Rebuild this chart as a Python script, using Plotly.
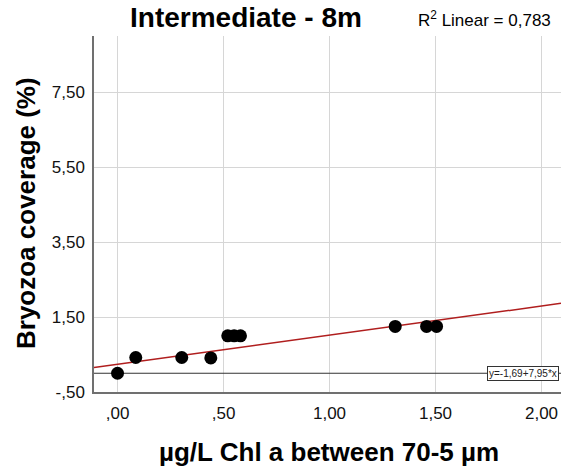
import numpy as np
import plotly.graph_objects as go

# Data
chl = [0.00, 0.086, 0.303, 0.44, 0.52, 0.55, 0.58, 1.31, 1.458, 1.505]
bryozoa = [0.00, 0.42, 0.42, 0.41, 1.00, 1.00, 1.00, 1.25, 1.25, 1.25]

# Fit line as drawn in the chart
fit_intercept = 0.24
fit_slope = 0.777

x_ticks = [0.0, 0.5, 1.0, 1.5, 2.0]
x_ticklabels = [",00", ",50", "1,00", "1,50", "2,00"]
y_ticks = [-0.5, 1.5, 3.5, 5.5, 7.5]
y_ticklabels = ["-,50", "1,50", "3,50", "5,50", "7,50"]

title = "Intermediate - 8m"
r2_text = "R<sup>2</sup> Linear = 0,783"
eq_text = "y=-1,69+7,95*x"
x_title = "µg/L Chl a between 70-5 µm"
y_title = "Bryozoa coverage (%)"

x_range = [-0.111, 2.092]
y_range = [-0.5, 9.0]

fx = np.array(x_range)
fy = fit_intercept + fit_slope * fx

FONT = "Liberation Sans, Arial, sans-serif"

fig = go.Figure()
fig.add_trace(go.Scatter(x=[x_range[0], x_range[1]], y=[0, 0], mode="lines",
                         line=dict(color="#333333", width=1.2), hoverinfo="skip"))
fig.add_trace(go.Scatter(x=fx, y=fy, mode="lines",
                         line=dict(color="#b01e1e", width=1.5), hoverinfo="skip"))
fig.add_trace(go.Scatter(x=chl, y=bryozoa, mode="markers",
                         marker=dict(color="black", size=13)))

fig.update_layout(
    width=561, height=470,
    margin=dict(l=94, r=0, t=36, b=78),
    paper_bgcolor="white", plot_bgcolor="white",
    showlegend=False,
    font=dict(family=FONT, color="#111111"),
)
fig.update_xaxes(range=x_range, tickvals=x_ticks, ticktext=x_ticklabels,
                 showgrid=True, gridcolor="#d6d6d6", gridwidth=1.2,
                 showline=True, linecolor="#707070", linewidth=1.5,
                 zeroline=False, ticks="", tickfont=dict(size=17, color="#111111"),
                 ticklabelstandoff=5)
fig.update_yaxes(range=y_range, tickvals=y_ticks, ticktext=y_ticklabels,
                 showgrid=True, gridcolor="#d6d6d6", gridwidth=1.2,
                 showline=True, linecolor="#707070", linewidth=1.5,
                 zeroline=False, ticks="", tickfont=dict(size=17, color="#111111"),
                 ticklabelstandoff=4)

fig.add_annotation(text=f"<b>{title}</b>", xref="paper", yref="paper",
                   x=(246 - 94) / 467, y=1 + (36 - 18) / 356, showarrow=False,
                   font=dict(size=28, color="black", family=FONT),
                   xanchor="center", yanchor="middle")
fig.add_annotation(text=r2_text, xref="paper", yref="paper",
                   x=(484 - 94) / 467, y=1 + (36 - 19) / 356, showarrow=False,
                   font=dict(size=17, color="black", family=FONT),
                   xanchor="center", yanchor="middle")
fig.add_annotation(text=f"<b>{x_title}</b>", xref="paper", yref="paper",
                   x=(329 - 94) / 467, y=-(452 - 392) / 356, showarrow=False,
                   font=dict(size=26, color="black", family=FONT),
                   xanchor="center", yanchor="middle")
fig.add_annotation(text=f"<b>{y_title}</b>", xref="paper", yref="paper",
                   x=-(94 - 26) / 467, y=(392 - 213) / 356, showarrow=False,
                   textangle=-90,
                   font=dict(size=26, color="black", family=FONT),
                   xanchor="center", yanchor="middle")
fig.add_annotation(text=eq_text, xref="paper", yref="y",
                   x=(559 - 94) / 467, y=0, showarrow=False,
                   xanchor="right", yanchor="middle",
                   font=dict(size=10, color="#222222", family=FONT),
                   bgcolor="white", bordercolor="#333333", borderwidth=1, borderpad=1)

fig.write_html("out.html")
